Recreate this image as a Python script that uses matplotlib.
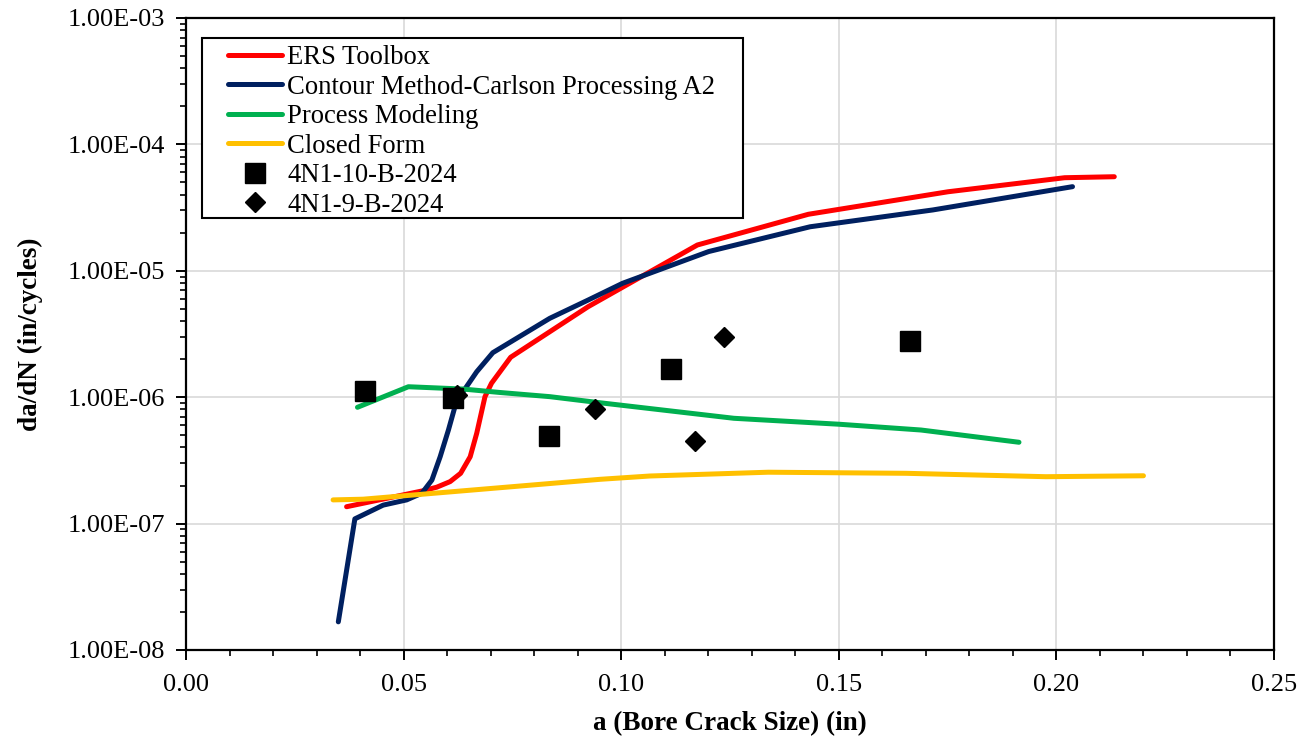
import matplotlib
matplotlib.use("Agg")
import matplotlib.pyplot as plt
from matplotlib.patches import Rectangle
from matplotlib.ticker import FuncFormatter, MultipleLocator, LogLocator, NullFormatter

plt.rcParams['font.family'] = ['Liberation Serif', 'DejaVu Serif']

# ERS Toolbox
ers_x = [0.0369, 0.0545, 0.0576, 0.0607, 0.0631, 0.0653, 0.0668, 0.0687, 0.0702,
         0.0746, 0.0924, 0.1175, 0.1430, 0.1751, 0.2019, 0.2133]
ers_y = [1.36e-7, 1.82e-7, 1.94e-7, 2.15e-7, 2.50e-7, 3.38e-7, 5.18e-7, 1.01e-6, 1.29e-6,
         2.07e-6, 5.20e-6, 1.60e-5, 2.80e-5, 4.22e-5, 5.45e-5, 5.55e-5]

# Contour Method-Carlson Processing A2
cm_x = [0.0350, 0.0388, 0.0453, 0.0507, 0.0542, 0.0565, 0.0584, 0.0603, 0.0618, 0.0637,
        0.0668, 0.0705, 0.0836, 0.0924, 0.1003, 0.1201, 0.1434, 0.1716, 0.2037]
cm_y = [1.67e-8, 1.09e-7, 1.40e-7, 1.54e-7, 1.74e-7, 2.21e-7, 3.38e-7, 5.50e-7, 8.41e-7, 1.11e-6,
        1.59e-6, 2.25e-6, 4.21e-6, 5.87e-6, 7.96e-6, 1.42e-5, 2.23e-5, 3.03e-5, 4.63e-5]

# Process Modeling
pm_x = [0.0394, 0.0511, 0.0637, 0.0721, 0.0836, 0.0951, 0.1259, 0.1501, 0.1689, 0.1914]
pm_y = [8.32e-7, 1.21e-6, 1.16e-6, 1.09e-6, 1.01e-6, 9.04e-7, 6.81e-7, 6.11e-7, 5.50e-7, 4.40e-7]

# Closed Form
cf_x = [0.0338, 0.0407, 0.0951, 0.1066, 0.1338, 0.1654, 0.1976, 0.2200]
cf_y = [1.54e-7, 1.56e-7, 2.24e-7, 2.38e-7, 2.55e-7, 2.50e-7, 2.35e-7, 2.39e-7]

# 4N1-10-B-2024
sq_x = [0.0411, 0.0614, 0.0835, 0.1114, 0.1664]
sq_y = [1.125e-6, 9.8e-7, 4.96e-7, 1.66e-6, 2.78e-6]

# 4N1-9-B-2024
dm_x = [0.0623, 0.0939, 0.1169, 0.1236]
dm_y = [1.04e-6, 8.02e-7, 4.48e-7, 3.01e-6]

labels = ["ERS Toolbox", "Contour Method-Carlson Processing A2", "Process Modeling",
          "Closed Form", "4N1-10-B-2024", "4N1-9-B-2024"]

W, H = 1304, 736
fig = plt.figure(figsize=(W / 100, H / 100), dpi=100)
ax = fig.add_axes([186 / W, 86 / H, 1088 / W, 632 / H])

lw = 3.6
kw = dict(lw=lw, solid_capstyle='round', solid_joinstyle='round', zorder=3)
ax.plot(ers_x, ers_y, color='#ff0000', label=labels[0], **kw)
ax.plot(cm_x, cm_y, color='#002060', label=labels[1], **kw)
ax.plot(pm_x, pm_y, color='#00b050', label=labels[2], **kw)
ax.plot(cf_x, cf_y, color='#ffc000', label=labels[3], **kw)
ax.plot(sq_x, sq_y, linestyle='none', marker='s', ms=14, color='black', label=labels[4], zorder=4)
ax.plot(dm_x, dm_y, linestyle='none', marker='D', ms=10, color='black', label=labels[5], zorder=4)

ax.set_yscale('log')
ax.set_xlim(0, 0.25)
ax.set_ylim(1e-8, 1e-3)

ax.xaxis.set_major_locator(MultipleLocator(0.05))
ax.xaxis.set_minor_locator(MultipleLocator(0.01))
ax.xaxis.set_major_formatter(FuncFormatter(lambda v, p: f"{v:.2f}"))
ax.yaxis.set_major_locator(LogLocator(base=10, numticks=20))
ax.yaxis.set_minor_locator(LogLocator(base=10, subs=range(2, 10), numticks=20))
ax.yaxis.set_minor_formatter(NullFormatter())
ax.yaxis.set_major_formatter(FuncFormatter(lambda v, p: f"{v:.2E}"))

ax.grid(True, which='major', color='#d9d9d9', lw=1.2, zorder=0)
ax.set_axisbelow(True)

for s in ax.spines.values():
    s.set_linewidth(1.6)
    s.set_color('black')

ax.tick_params(axis='both', which='major', direction='out', length=7, width=1.4,
               labelsize=19, colors='black', pad=8)
ax.tick_params(axis='x', which='major', pad=10)
ax.tick_params(axis='both', which='minor', direction='out', length=4.5, width=1.2)

ax.set_xlabel("a (Bore Crack Size) (in)", fontsize=19.5, fontweight='bold', labelpad=11)
ax.set_ylabel("da/dN (in/cycles)", fontsize=19.5, fontweight='bold', labelpad=18)

# legend (frameless) placed with its handles starting at pixel x=228
leg = ax.legend(loc='upper left',
                bbox_to_anchor=((228 - 186) / 1088, 1 - (45 - 18) / 632),
                borderaxespad=0, borderpad=0, fontsize=19.2, frameon=False,
                handlelength=54 / 26.7, handletextpad=0.2, labelspacing=0.17, numpoints=1)
# legend frame
rect = Rectangle((202 / W, 1 - 218 / H), (743 - 202) / W, (218 - 38) / H,
                 transform=fig.transFigure, facecolor='white', edgecolor='black',
                 lw=1.5, zorder=4.5)
ax.add_artist(rect)
rect.set_clip_on(False)
leg.set_zorder(5)

fig.savefig("out.png", dpi=100)
